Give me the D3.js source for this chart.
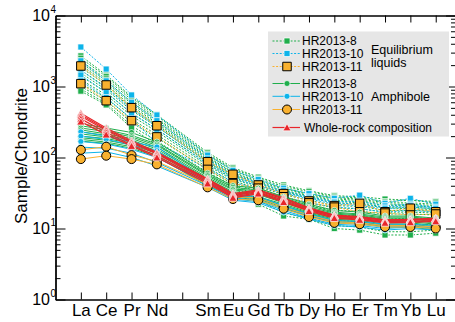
<!DOCTYPE html>
<html lang="en">
<head>
<meta charset="UTF-8">
<title>REE</title>
<script src="https://cdn.jsdelivr.net/npm/d3@7"></script>
<style>
  body { margin: 0; background: #fff; }
  svg { display: block; font-family: "Liberation Sans", Arial, sans-serif; }
</style>
</head>
<body>
<div id="box"></div>
<script>
// axis categories (Pm left as empty slot)
var categories = ["La", "Ce", "Pr", "Nd", "", "Sm", "Eu", "Gd", "Tb", "Dy", "Ho", "Er", "Tm", "Yb", "Lu"];
var elements = ["La", "Ce", "Pr", "Nd", "Sm", "Eu", "Gd", "Tb", "Dy", "Ho", "Er", "Tm", "Yb", "Lu"];
var yTicks = [1, 10, 100, 1000, 10000];

// equilibrium liquids
var liq8 = [
  [2700, 1450, 720, 400, 118, 72, 53, 41, 34, 29, 28, 26, 25, 24],
  [2500, 1380, 690, 385, 112, 69, 51, 39, 33, 28, 27, 24, 25, 23],
  [2300, 1280, 650, 360, 108, 66, 48, 37, 31, 27, 26, 23, 23, 22],
  [2150, 1200, 600, 345, 102, 62, 46, 36, 30, 26, 25, 22, 22, 21],
  [2000, 1130, 570, 320, 99, 61, 44, 34, 29, 25, 24, 21, 21, 20],
  [1850, 1060, 530, 305, 94, 58, 43, 33, 28, 24, 23, 20, 20, 19],
  [1700, 980, 500, 290, 90, 56, 41, 32, 27, 23, 22, 19.5, 19, 18.5],
  [1550, 900, 460, 272, 86, 53, 39, 30, 25, 21, 20.5, 18, 18, 17.5],
  [1400, 830, 420, 250, 82, 51, 37, 28, 23, 19.5, 19, 17, 17, 16.5],
  [1250, 760, 385, 232, 77, 48, 35, 26, 21, 18, 17.5, 16, 16, 15.5],
  [1100, 690, 345, 210, 72, 45, 32, 23, 18.5, 15.5, 15, 13.5, 14, 14],
  [1000, 630, 310, 190, 67, 42, 28, 19, 16, 13, 12.5, 11, 11, 11.5],
  [920, 580, 280, 170, 62, 40, 25, 16.5, 14, 11, 10.5, 9, 9, 9.5],
  [860, 550, 260, 150, 58, 38, 22, 15, 13.5, 10, 9.5, 8.1, 8.1, 8.6]
];
var liq10 = [
  [3600, 1760, 760, 397, 108, 66, 49, 37, 31, 26.6, 29.5, 22.6, 26.6, 22],
  [2300, 1200, 600, 330, 96, 58, 44, 34, 28, 24, 24, 21, 22, 20],
  [1700, 950, 480, 275, 86, 54, 41, 32, 27, 23, 22, 20, 21, 19.5],
  [1450, 820, 420, 250, 80, 50, 40, 31, 26, 22, 21, 19, 20, 19],
  [1200, 700, 350, 158, 70, 45, 36, 28, 23, 20, 19, 17, 18, 17]
];
var liq11 = [
  [1945, 1050, 503, 280, 87, 58, 41, 31, 24.4, 21, 22.6, 17.2, 19.3, 17.2],
  [1095, 631, 330, 195, 68, 43, 37, 28, 23, 20, 17.2, 16.5, 15.5, 16]
];

// amphibole
var amph8 = [
  [300, 260, 225, 165, 60, 40, 37, 28, 22, 18, 17, 15, 15, 14],
  [280, 245, 205, 155, 57, 38, 35, 27, 21, 17, 16, 14.5, 14.5, 13.5],
  [260, 232, 195, 148, 55, 36, 34, 26, 20, 16.5, 15.5, 14, 14, 13],
  [245, 215, 185, 140, 52, 35, 32, 25, 19, 16, 15, 13.5, 13.5, 12.5],
  [230, 205, 175, 132, 50, 33, 31, 24, 18.5, 15, 14.5, 13, 13, 12],
  [215, 195, 165, 125, 48, 32, 30, 23, 18, 14.5, 14, 12.5, 12.5, 11.5],
  [200, 185, 158, 120, 46, 31, 28, 22, 17, 14, 13.5, 12, 12, 11],
  [190, 175, 150, 114, 44, 30, 27, 21, 16.5, 13.5, 13, 11.5, 11.5, 10.5],
  [180, 165, 142, 108, 42, 29, 26, 20, 16, 13, 12.5, 11, 11, 10],
  [170, 158, 135, 103, 40, 28, 25, 19, 15, 12.5, 12, 10.5, 10.5, 9.5]
];
var amph10 = [
  [230, 200, 165, 141, 46, 30, 28, 21, 16, 13, 12.5, 11.5, 11.5, 11],
  [200, 180, 150, 125, 44, 29, 27, 20, 15.5, 12.5, 12, 11, 11, 10.5],
  [168, 155, 130, 100, 42, 27, 25, 19, 15, 12, 11.5, 10.5, 10.5, 10],
  [140, 135, 115, 85, 40, 26, 24, 18, 14, 11.5, 11, 10, 10.5, 10],
  [115, 120, 100, 76, 38, 25, 23, 17, 13.5, 11, 10.5, 9.5, 10, 9.5]
];
var amph11 = [
  [128, 142, 108, 88, 42, 28, 27, 20, 15.5, 12.5, 12, 11, 11, 10.5],
  [95, 106, 95, 80, 38, 26, 25, 19, 14.5, 12, 11.5, 10.5, 10.5, 10]
];

// whole rock
var wholeRock = [
  [420, 260, 172, 118, 50, 31, 35, 27, 19.5, 15.5, 14.7, 13.2, 13.5, 14],
  [400, 250, 165, 115, 49, 30, 34, 26, 19, 15.2, 14.3, 13, 13.3, 13.8],
  [380, 240, 160, 112, 47, 29, 33, 25, 18.5, 15, 14, 12.5, 13, 13.5],
  [350, 225, 150, 105, 45, 28, 32, 24, 18, 14.5, 13.5, 12.3, 12.5, 13],
  [320, 210, 145, 100, 43, 27, 31, 23.5, 17.5, 14, 13.2, 12, 12.2, 12.6]
];

var width = 455, height = 322;
var x = d3.scaleLinear().domain([-1, 14.8]).range([55.5, 456]);
var y = d3.scaleLog().domain([1, 10000]).range([299.5, 15.5]);

var green = "#1fae4b", cyan = "#0db4ea", orange = "#f9b12f", red = "#e8262b";

var svg = d3.select("#box").append("svg")
  .attr("width", width).attr("height", height);

// series styles
var groups = [
  {name: "HR2013-8", data: liq8, color: green, shape: "square", size: 6, stroke: "#fff", dash: "2,1.6"},
  {name: "HR2013-10", data: liq10, color: cyan, shape: "square", size: 6, stroke: "#fff", dash: "2,1.6"},
  {name: "HR2013-11", data: liq11, color: orange, shape: "square", size: 8.5, stroke: "#000", dash: "2,1.6"},
  {name: "HR2013-8", data: amph8, color: green, shape: "circle", size: 6, stroke: "#fff", dash: null},
  {name: "HR2013-10", data: amph10, color: cyan, shape: "circle", size: 6, stroke: "#fff", dash: null},
  {name: "HR2013-11", data: amph11, color: orange, shape: "circle", size: 9, stroke: "#000", dash: null},
  {name: "Whole-rock composition", data: wholeRock, color: red, shape: "triangle", size: 8, stroke: "#fff", dash: null}
];

function pos(el) { return x(categories.indexOf(el)); }

var line = d3.line()
  .x(function(d, i) { return pos(elements[i]); })
  .y(function(d) { return y(d); });

function symbolPath(shape, size) {
  var t = shape == "square" ? d3.symbolSquare : shape == "circle" ? d3.symbolCircle : d3.symbolTriangle;
  var area = shape == "triangle" ? size * size * 0.45 : shape == "circle" ? Math.PI * size * size / 4 : size * size;
  return d3.symbol().type(t).size(area)();
}

var plot = svg.append("g");

groups.forEach(function(g) {
  var gg = plot.append("g");
  gg.selectAll("path.ln")
    .data(g.data)
    .enter()
    .append("path")
    .attr("class", "ln")
    .attr("d", line)
    .attr("fill", "none")
    .attr("stroke", g.color)
    .attr("stroke-width", g.shape == "triangle" ? 1.2 : 1)
    .attr("stroke-dasharray", g.dash);

  var pts = [];
  g.data.forEach(function(row) {
    row.forEach(function(v, i) { pts.push({el: elements[i], v: v}); });
  });
  gg.selectAll("path.mk")
    .data(pts)
    .enter()
    .append("path")
    .attr("class", "mk")
    .attr("d", symbolPath(g.shape, g.size))
    .attr("transform", function(d) {
      var dy = g.shape == "triangle" ? 1 : 0;
      return "translate(" + pos(d.el) + "," + (y(d.v) + dy) + ")";
    })
    .attr("fill", g.color)
    .attr("stroke", g.stroke)
    .attr("stroke-width", g.stroke == "#000" ? 1 : 0.7);
});

// axes
var minor = [];
yTicks.slice(0, -1).forEach(function(t) {
  for (var k = 2; k <= 9; k++) minor.push(t * k);
});

function styleAxis(sel) {
  sel.select(".domain").attr("stroke", "#000").attr("stroke-width", 1.3);
  sel.selectAll(".tick line").attr("stroke", "#000").attr("stroke-width", 1);
  sel.selectAll(".tick text").remove();
}

svg.append("g").attr("transform", "translate(55.5,0)")
  .call(d3.axisLeft(y).tickValues(yTicks).tickSize(-10).tickSizeOuter(0))
  .call(styleAxis);
svg.append("g").attr("transform", "translate(55.5,0)")
  .call(d3.axisLeft(y).tickValues(minor).tickSize(-5).tickSizeOuter(0))
  .call(styleAxis);
svg.append("g").attr("transform", "translate(456,0)")
  .call(d3.axisRight(y).tickValues(yTicks).tickSize(-10).tickSizeOuter(0))
  .call(styleAxis);
svg.append("g").attr("transform", "translate(456,0)")
  .call(d3.axisRight(y).tickValues(minor).tickSize(-5).tickSizeOuter(0))
  .call(styleAxis);

var xAxis = d3.axisBottom(x).tickValues(d3.range(0, categories.length)).tickSize(-7).tickSizeOuter(0)
  .tickPadding(4).tickFormat(function(i) { return categories[i]; });
var gx = svg.append("g").attr("transform", "translate(0,299.5)").call(xAxis);
gx.select(".domain").attr("stroke", "#000").attr("stroke-width", 1.3);
gx.selectAll(".tick line").attr("stroke", "#000");
gx.selectAll(".tick text").attr("fill", "#000").style("font-size", "17px")
  .style("font-family", "'Liberation Sans', Arial, sans-serif");

svg.append("g").attr("transform", "translate(0,15.5)")
  .call(d3.axisTop(x).tickValues(d3.range(0, categories.length)).tickSize(-7).tickSizeOuter(0))
  .call(styleAxis);

// y tick labels 10^n
svg.append("g").selectAll("text")
  .data(yTicks)
  .enter()
  .append("text")
  .attr("x", 50)
  .attr("y", function(d) { return y(d) + 5.5; })
  .attr("text-anchor", "end")
  .attr("fill", "#000")
  .style("font-size", "16px")
  .text("10");
svg.append("g").selectAll("text")
  .data(yTicks)
  .enter()
  .append("text")
  .attr("x", 50.5)
  .attr("y", function(d) { return y(d) - 3; })
  .attr("fill", "#000")
  .style("font-size", "10px")
  .text(function(d) { return Math.round(Math.log10(d)); });

svg.append("text")
  .attr("transform", "translate(27,156) rotate(-90)")
  .attr("text-anchor", "middle")
  .attr("fill", "#000")
  .style("font-size", "17px")
  .text("Sample/Chondrite");

// legend
var lg = svg.append("g");
lg.append("rect").attr("x", 268).attr("y", 31.5).attr("width", 181).attr("height", 105)
  .attr("fill", "#e6e6e6");
var rowsY = [41, 53.5, 66.5, 83.5, 96.3, 109.5, 127.5];
groups.forEach(function(g, i) {
  var ry = rowsY[i];
  lg.append("line").attr("x1", 272.5).attr("x2", 300).attr("y1", ry).attr("y2", ry)
    .attr("stroke", g.color).attr("stroke-width", g.shape == "triangle" ? 1.2 : 1)
    .attr("stroke-dasharray", g.dash);
  lg.append("path").attr("d", symbolPath(g.shape, g.size))
    .attr("transform", "translate(287," + (ry + (g.shape == "triangle" ? 1 : 0)) + ")")
    .attr("fill", g.color).attr("stroke", g.stroke)
    .attr("stroke-width", g.stroke == "#000" ? 1 : 0.7);
  lg.append("text").attr("x", g.shape == "triangle" ? 304 : 302).attr("y", ry + 4.3)
    .attr("fill", "#000").style("font-size", "12px").text(g.name);
});
lg.append("text").attr("x", 371).attr("y", 54.3).attr("fill", "#000").style("font-size", "12.5px").text("Equilibrium");
lg.append("text").attr("x", 371).attr("y", 67).attr("fill", "#000").style("font-size", "12.5px").text("liquids");
lg.append("text").attr("x", 371).attr("y", 101).attr("fill", "#000").style("font-size", "12.5px").text("Amphibole");
</script>
</body>
</html>
